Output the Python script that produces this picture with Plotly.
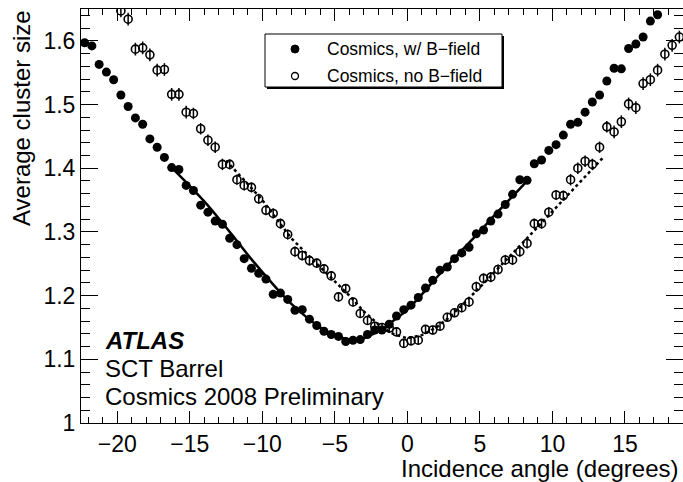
import plotly.graph_objects as go

# ---------------- data ----------------
bin_centers = [-22.25, -21.75, -21.25, -20.75, -20.25, -19.75, -19.25, -18.75, -18.25, -17.75,
               -17.25, -16.75, -16.25, -15.75, -15.25, -14.75, -14.25, -13.75, -13.25, -12.75,
               -12.25, -11.75, -11.25, -10.75, -10.25, -9.75, -9.25, -8.75, -8.25, -7.75,
               -7.25, -6.75, -6.25, -5.75, -5.25, -4.75, -4.25, -3.75, -3.25, -2.75,
               -2.25, -1.75, -1.25, -0.75, -0.25, 0.25, 0.75, 1.25, 1.75, 2.25,
               2.75, 3.25, 3.75, 4.25, 4.75, 5.25, 5.75, 6.25, 6.75, 7.25,
               7.75, 8.25, 8.75, 9.25, 9.75, 10.25, 10.75, 11.25, 11.75, 12.25,
               12.75, 13.25, 13.75, 14.25, 14.75, 15.25, 15.75, 16.25, 16.75, 17.25,
               17.75, 18.25, 18.75]

with_b_angle = bin_centers[0:80]
with_b_size = [1.597, 1.592, 1.563, 1.551, 1.539, 1.515, 1.497, 1.479, 1.469, 1.446,
               1.433, 1.417, 1.401, 1.398, 1.373, 1.365, 1.342, 1.331, 1.317, 1.312,
               1.290, 1.280, 1.258, 1.243, 1.235, 1.226, 1.202, 1.204, 1.194, 1.177,
               1.178, 1.163, 1.153, 1.144, 1.139, 1.136, 1.128, 1.130, 1.131, 1.139,
               1.146, 1.146, 1.155, 1.168, 1.178, 1.185, 1.197, 1.212, 1.224, 1.240,
               1.245, 1.258, 1.267, 1.276, 1.297, 1.303, 1.317, 1.328, 1.343, 1.359,
               1.382, 1.381, 1.407, 1.413, 1.428, 1.437, 1.452, 1.469, 1.472, 1.488,
               1.504, 1.515, 1.537, 1.557, 1.556, 1.588, 1.595, 1.606, 1.631, 1.641]
with_b_err = [0.005, 0.005, 0.005, 0.005, 0.005, 0.005, 0.005, 0.005, 0.005, 0.005,
              0.005, 0.005, 0.004, 0.004, 0.004, 0.004, 0.004, 0.004, 0.004, 0.004,
              0.004, 0.004, 0.004, 0.004, 0.004, 0.004, 0.004, 0.004, 0.004, 0.004,
              0.004, 0.004, 0.004, 0.004, 0.004, 0.004, 0.004, 0.004, 0.004, 0.004,
              0.004, 0.004, 0.004, 0.004, 0.004, 0.004, 0.004, 0.004, 0.004, 0.004,
              0.004, 0.004, 0.004, 0.004, 0.004, 0.004, 0.004, 0.004, 0.004, 0.004,
              0.004, 0.004, 0.004, 0.004, 0.004, 0.004, 0.004, 0.004, 0.005, 0.005,
              0.005, 0.005, 0.005, 0.005, 0.005, 0.005, 0.005, 0.005, 0.005, 0.005]

no_b_angle = bin_centers[5:83]
no_b_size = [1.647, 1.634, 1.587, 1.589, 1.578, 1.554, 1.555, 1.516, 1.516, 1.488,
             1.486, 1.462, 1.444, 1.433, 1.406, 1.406, 1.382, 1.373, 1.370, 1.352,
             1.334, 1.329, 1.313, 1.296, 1.269, 1.263, 1.255, 1.251, 1.242, 1.231,
             1.198, 1.211, 1.190, 1.172, 1.161, 1.152, 1.150, 1.149, 1.143, 1.125,
             1.129, 1.130, 1.147, 1.146, 1.152, 1.166, 1.173, 1.181, 1.190, 1.214,
             1.227, 1.229, 1.241, 1.256, 1.256, 1.269, 1.282, 1.313, 1.313, 1.331,
             1.358, 1.357, 1.382, 1.400, 1.411, 1.406, 1.433, 1.465, 1.457, 1.473,
             1.501, 1.495, 1.533, 1.539, 1.554, 1.579, 1.593, 1.606]
no_b_err = [0.010, 0.010, 0.010, 0.010, 0.010, 0.010, 0.010, 0.010, 0.010, 0.010,
            0.009, 0.009, 0.009, 0.009, 0.009, 0.008, 0.008, 0.008, 0.008, 0.008,
            0.008, 0.008, 0.008, 0.008, 0.008, 0.008, 0.008, 0.007, 0.007, 0.007,
            0.007, 0.007, 0.007, 0.007, 0.007, 0.007, 0.007, 0.007, 0.007, 0.007,
            0.007, 0.007, 0.007, 0.007, 0.007, 0.007, 0.007, 0.007, 0.008, 0.008,
            0.008, 0.008, 0.008, 0.008, 0.008, 0.008, 0.008, 0.008, 0.008, 0.008,
            0.008, 0.008, 0.009, 0.009, 0.009, 0.009, 0.009, 0.009, 0.010, 0.010,
            0.010, 0.010, 0.010, 0.010, 0.010, 0.010, 0.010, 0.010]

# fitted curves
fit_b_angle = [-16.3, -15, -14, -13, -12, -11, -10, -9, -8, -7, -6, -5, -4, -3.5, -3, -2,
               -1, 0, 1, 2, 3, 4, 5, 6, 7, 8, 8.3]
fit_b_size = [1.402, 1.372, 1.348, 1.321, 1.293, 1.264, 1.237, 1.211, 1.187, 1.167, 1.150,
              1.138, 1.131, 1.130, 1.133, 1.144, 1.160, 1.178, 1.202, 1.228, 1.253, 1.277,
              1.301, 1.326, 1.350, 1.374, 1.382]

fit_nob_angle = [-12.5, -12, -11, -10, -9, -8, -7, -6, -5, -4, -3, -2, -1, 0, 1, 2, 3, 4,
                 5, 6, 7, 8, 9, 10, 11, 12, 13, 13.5]
fit_nob_size = [1.412, 1.400, 1.375, 1.350, 1.320, 1.290, 1.267, 1.245, 1.222, 1.200,
                1.175, 1.155, 1.140, 1.133, 1.138, 1.150, 1.168, 1.190, 1.213, 1.237,
                1.260, 1.284, 1.308, 1.332, 1.356, 1.380, 1.405, 1.417]

legend_labels = ["Cosmics, w/ B\u2212field", "Cosmics, no B\u2212field"]
x_title = "Incidence angle (degrees)"
y_title = "Average cluster size"
label_lines = ["<b><i>ATLAS</i></b>", "SCT Barrel", "Cosmics 2008 Preliminary"]

# ---------------- figure ----------------
FONT = "Liberation Sans, Arial, Helvetica, sans-serif"

fig = go.Figure()

fig.add_trace(go.Scatter(
    x=fit_nob_angle, y=fit_nob_size, mode="lines",
    line=dict(color="black", width=2.5, dash="dot"), showlegend=False, hoverinfo="skip"))
fig.add_trace(go.Scatter(
    x=fit_b_angle, y=fit_b_size, mode="lines",
    line=dict(color="black", width=2.5, shape="spline"), showlegend=False, hoverinfo="skip"))

fig.add_trace(go.Scatter(
    x=no_b_angle, y=no_b_size, mode="markers", name=legend_labels[1],
    marker=dict(symbol="circle-open", size=8, color="black", line=dict(width=1.6, color="black")),
    error_y=dict(type="data", array=no_b_err, visible=True, thickness=1.5, width=0, color="black"),
    showlegend=False))
fig.add_trace(go.Scatter(
    x=with_b_angle, y=with_b_size, mode="markers", name=legend_labels[0],
    marker=dict(symbol="circle", size=9, color="black"),
    error_y=dict(type="data", array=with_b_err, visible=True, thickness=1.5, width=0, color="black"),
    showlegend=False))

# plot-area geometry in pixels
L, T, W, H = 81, 9, 602, 414


def px(xp):
    return (xp - L) / W


def py(yp):
    return (T + H - yp) / H


axis_common = dict(
    showline=True, linecolor="black", linewidth=1, mirror="ticks",
    ticks="inside", tickcolor="black", tickwidth=1,
    showgrid=False, zeroline=False,
    tickfont=dict(family=FONT, size=23, color="black"),
)

fig.update_xaxes(range=[-22.5, 19], dtick=5, tick0=0, ticklen=12,
                 minor=dict(dtick=1, ticks="inside", ticklen=6, tickcolor="black", showgrid=False),
                 **axis_common)
fig.update_yaxes(range=[1.0, 1.65], dtick=0.1, tick0=1.0, ticklen=17,
                 minor=dict(dtick=0.02, ticks="inside", ticklen=9, tickcolor="black", showgrid=False),
                 **axis_common)

shapes = []
# legend box with shadow
shapes.append(dict(type="rect", xref="paper", yref="paper",
                   x0=px(267), x1=px(504), y0=py(89), y1=py(36),
                   fillcolor="black", line=dict(width=0)))
shapes.append(dict(type="rect", xref="paper", yref="paper",
                   x0=px(265), x1=px(502), y0=py(87), y1=py(34),
                   fillcolor="white", line=dict(color="black", width=1)))
shapes.append(dict(type="circle", xref="paper", yref="paper",
                   xsizemode="pixel", ysizemode="pixel", xanchor=px(295), yanchor=py(49),
                   x0=-4, x1=4, y0=-4, y1=4, fillcolor="black", line=dict(color="black", width=1)))
shapes.append(dict(type="circle", xref="paper", yref="paper",
                   xsizemode="pixel", ysizemode="pixel", xanchor=px(295), yanchor=py(76),
                   x0=-3.5, x1=3.5, y0=-3.5, y1=3.5, fillcolor="white", line=dict(color="black", width=1.3)))

annotations = []
annotations.append(dict(text=legend_labels[0], xref="paper", yref="paper", x=px(325), y=py(49),
                        xanchor="left", yanchor="middle", showarrow=False,
                        font=dict(family=FONT, size=17.5, color="black")))
annotations.append(dict(text=legend_labels[1], xref="paper", yref="paper", x=px(325), y=py(76),
                        xanchor="left", yanchor="middle", showarrow=False,
                        font=dict(family=FONT, size=17.5, color="black")))
for txt, yp in zip(label_lines, [340, 368, 396]):
    annotations.append(dict(text=txt, xref="paper", yref="paper", x=px(103), y=py(yp),
                            xanchor="left", yanchor="middle", showarrow=False,
                            font=dict(family=FONT, size=24, color="black")))
annotations.append(dict(text=x_title, xref="paper", yref="paper", x=px(681), y=py(468),
                        xanchor="right", yanchor="middle", showarrow=False,
                        font=dict(family=FONT, size=24, color="black")))
annotations.append(dict(text=y_title, xref="paper", yref="paper", x=px(22), y=py(118),
                        xanchor="center", yanchor="middle", showarrow=False, textangle=-90,
                        font=dict(family=FONT, size=24, color="black")))

fig.update_layout(
    width=683, height=482,
    margin=dict(l=L, r=683 - L - W, t=T, b=482 - T - H, pad=0),
    paper_bgcolor="white", plot_bgcolor="white",
    showlegend=False,
    shapes=shapes, annotations=annotations,
    font=dict(family=FONT, color="black"),
)

# remove the browser's default 8px page margin so the figure fills the window exactly
fig.write_html("out.html",
               config={"displayModeBar": False},
               post_script="document.body.style.margin='0';document.body.style.overflow='hidden';")
